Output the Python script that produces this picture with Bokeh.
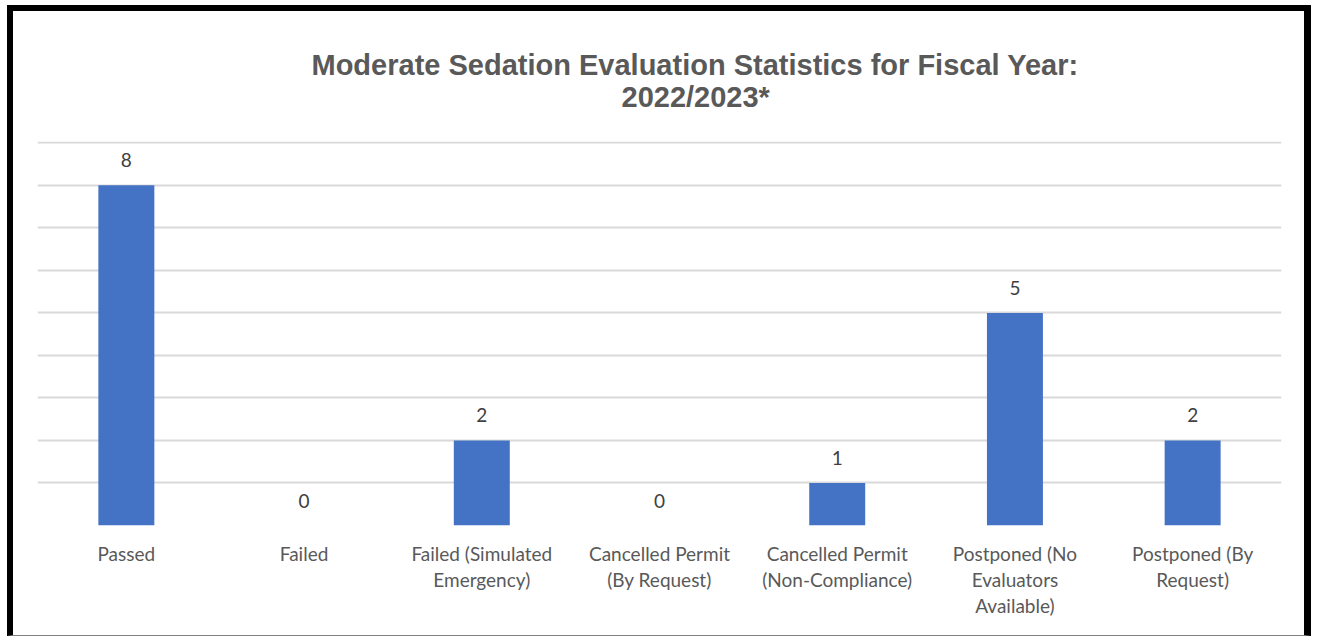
from bokeh.plotting import figure
from bokeh.models import (ColumnDataSource, FactorRange, Range1d, LabelSet, Title,
                          FixedTicker)
from bokeh.core.properties import value
from bokeh.embed import file_html
from bokeh.resources import INLINE

# Evaluation outcomes and their counts
categories = [
    "Passed",
    "Failed",
    "Failed (Simulated\nEmergency)",
    "Cancelled Permit\n(By Request)",
    "Cancelled Permit\n(Non-Compliance)",
    "Postponed (No\nEvaluators\nAvailable)",
    "Postponed (By\nRequest)",
]
counts = [8, 0, 2, 0, 1, 5, 2]
grid_ticks = [0, 1, 2, 3, 4, 5, 6, 7, 8, 9]
title_lines = ["Moderate Sedation Evaluation Statistics for Fiscal Year:", "2022/2023*"]

BAR_COLOR = "#4472C4"
TEXT_GRAY = "#595959"
LABEL_FONT = "Lato"
TITLE_FONT = "Liberation Sans"

source = ColumnDataSource(dict(
    cat=categories,
    count=counts,
    label=[str(c) for c in counts],
))

# chart box: heavy black rule on left, top and right, thin gray rule at the bottom
frame_css = {
    "margin-left": "7px",
    "margin-top": "5px",
    "border-left": "6px solid black",
    "border-top": "6px solid black",
    "border-right": "7px solid black",
    "border-bottom": "1px solid #808080",
}

p = figure(
    width=1304, height=631,
    x_range=FactorRange(*categories, range_padding=0),
    y_range=Range1d(0, 9.03),
    output_backend="svg", toolbar_location=None,
    min_border_left=24, min_border_right=36,
    min_border_top=130, min_border_bottom=117,
    background_fill_color="white", border_fill_color="white",
    styles=frame_css,
)
p.title.visible = False
p.outline_line_color = None

p.vbar(x="cat", top="count", width=0.315, source=source,
       fill_color=BAR_COLOR, line_color=None)

# value labels above each bar
p.add_layout(LabelSet(
    x="cat", y="count", text="label", source=source,
    y_offset=18, text_align="center", text_baseline="alphabetic",
    text_font=value(LABEL_FONT), text_font_size="19px", text_color="#404040",
))

# horizontal gridlines only, no y axis
p.yaxis.visible = False
p.yaxis.ticker = FixedTicker(ticks=grid_ticks)
p.ygrid.ticker = FixedTicker(ticks=grid_ticks)
p.ygrid.grid_line_color = "#D9D9D9"
p.ygrid.grid_line_width = 2
p.xgrid.grid_line_color = None

xa = p.xaxis[0]
xa.axis_line_color = None
xa.major_tick_line_color = None
xa.minor_tick_line_color = None
xa.major_label_standoff = 10
xa.major_label_text_font = LABEL_FONT
xa.major_label_text_font_size = "19px"
xa.major_label_text_color = TEXT_GRAY
xa.major_label_text_line_height = 1.15
xa.major_label_orientation = "horizontal"

# two-line chart title, lower line added first so it sits next to the plot;
# each line is left-aligned with an offset that centres it over the chart box
for text, gap, shift in [(title_lines[1], 58, 584), (title_lines[0], -63, 274)]:
    p.add_layout(Title(
        text=text, align="left", offset=shift, standoff=gap,
        text_font=TITLE_FONT, text_font_style="bold",
        text_font_size="29px", text_color=TEXT_GRAY,
    ), "above")

open("out.html", "w").write(file_html(p, INLINE))
